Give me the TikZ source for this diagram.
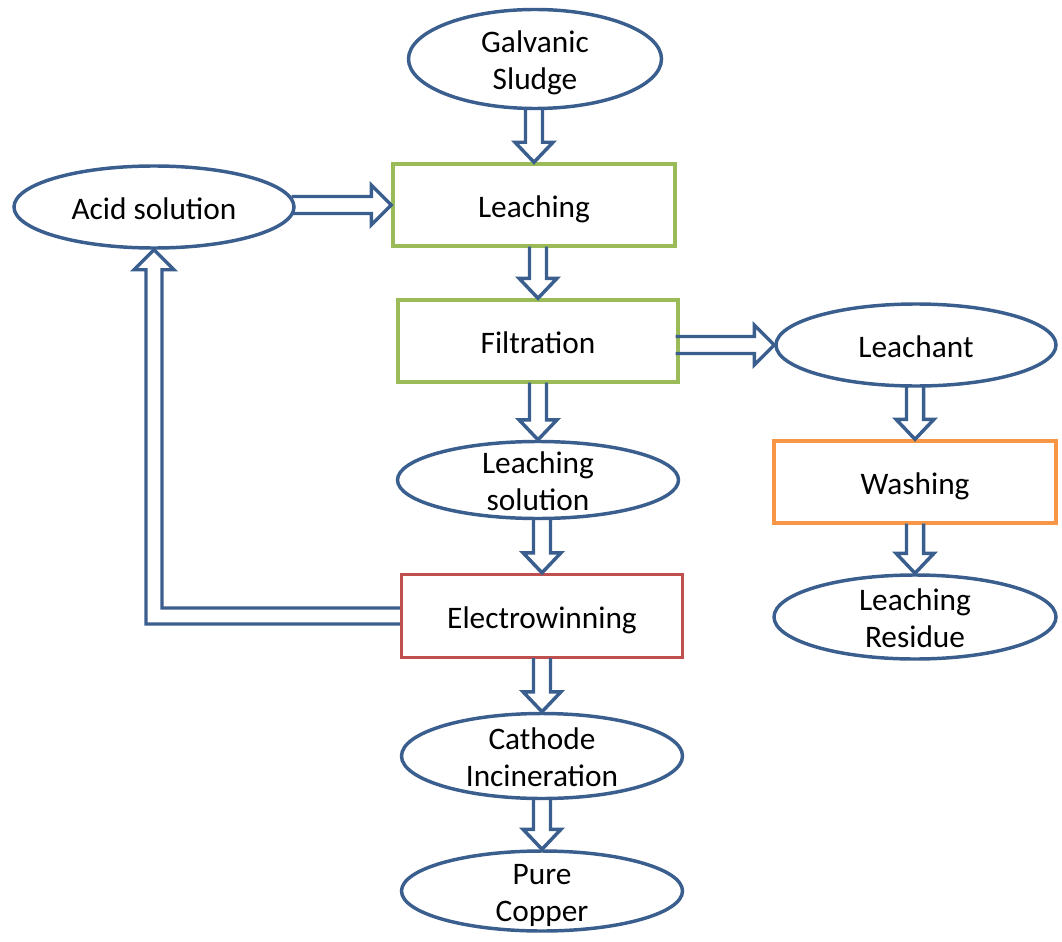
\documentclass[tikz,border=0pt]{standalone}
\usepackage{fontspec}
\setmainfont{Carlito}
\usetikzlibrary{shapes.geometric,calc}
\definecolor{eblue}{HTML}{3A5F8E}
\definecolor{bgreen}{HTML}{9BBB59}
\definecolor{borange}{HTML}{F79646}
\definecolor{bred}{HTML}{C0504D}
\newcommand\blkdown[2]{%
  \coordinate (tmpS) at (#2.north |- #1.south);
  \draw[blk] ($(tmpS)+(-8.5,-1)$) -- ($(#2.north)+(-8.5,-20)$) -- ($(#2.north)+(-19,-20)$) -- (#2.north)
    -- ($(#2.north)+(19,-20)$) -- ($(#2.north)+(8.5,-20)$) -- ($(tmpS)+(8.5,-1)$);}
\newcommand\blkright[2]{%
  \coordinate (tmpS) at (#1.east |- #2.west);
  \draw[blk] ($(tmpS)+(-4,-8.5)$) -- ($(#2.west)+(-20,-8.5)$) -- ($(#2.west)+(-20,-20)$) -- (#2.west)
    -- ($(#2.west)+(-20,20)$) -- ($(#2.west)+(-20,8.5)$) -- ($(tmpS)+(-4,8.5)$);}
\begin{document}
\begin{tikzpicture}[x=0.75pt,y=-0.75pt,
  txt/.style={align=center, inner sep=0pt, font=\fontsize{23.5}{27.5}\selectfont},
  ell/.style={ellipse, draw=eblue, line width=2.6pt, inner sep=0pt},
  box/.style={rectangle, line width=2.6pt, inner sep=0pt},
  lbl/.style={label={[txt,yshift=-3.6pt]center:{\strut #1\strut}}},
  blk/.style={draw=eblue, line width=2.6pt, line join=miter}]
\useasboundingbox (0,0) rectangle (1062,941);
\node[ell, minimum width=189.75pt, minimum height=74.25pt, lbl={Galvanic\\Sludge}] (gs) at (535,59) {};
\node[ell, minimum width=210pt, minimum height=61.5pt, lbl={Acid solution}] (acid) at (154,207) {};
\node[box, draw=bgreen, minimum width=211.5pt, minimum height=61.5pt, lbl={Leaching}] (leach) at (534,205) {};
\node[box, draw=bgreen, minimum width=210pt, minimum height=61.5pt, lbl={Filtration}] (filt) at (538,341) {};
\node[ell, minimum width=210pt, minimum height=61.5pt, lbl={Leachant}] (lchant) at (916,345) {};
\node[ell, minimum width=210.75pt, minimum height=57.75pt, lbl={Leaching\\solution}] (lsol) at (538,480) {};
\node[box, draw=borange, minimum width=211.5pt, minimum height=61.5pt, lbl={Washing}] (wash) at (915,482) {};
\node[ell, minimum width=211.5pt, minimum height=63pt, lbl={Leaching\\Residue}] (res) at (915,617) {};
\node[box, draw=bred, minimum width=210.75pt, minimum height=62.25pt, lbl={Electrowinning}] (ew) at (542,616) {};
\node[ell, minimum width=210.75pt, minimum height=63.75pt, lbl={Cathode\\Incineration}] (cath) at (542,756) {};
\node[ell, minimum width=210.75pt, minimum height=60pt, lbl={Pure\\Copper}] (cu) at (542,891) {};
\blkdown{gs}{leach}
\blkright{acid}{leach}
\blkdown{leach}{filt}
\blkright{filt}{lchant}
\blkdown{filt}{lsol}
\blkdown{lchant}{wash}
\blkdown{wash}{res}
\blkdown{lsol}{ew}
\blkdown{ew}{cath}
\blkdown{cath}{cu}
% feedback arrow
\coordinate (fbA) at (acid.south |- ew.west);
\draw[blk] ($(ew.west)+(0,-8)$) -- ($(fbA)+(8,-8)$) -- ($(acid.south)+(8,20)$) -- ($(acid.south)+(20,20)$)
  -- (acid.south) -- ($(acid.south)+(-20,20)$) -- ($(acid.south)+(-8,20)$) -- ($(fbA)+(-8,8)$) -- ($(ew.west)+(0,8)$);
\end{tikzpicture}
\end{document}
